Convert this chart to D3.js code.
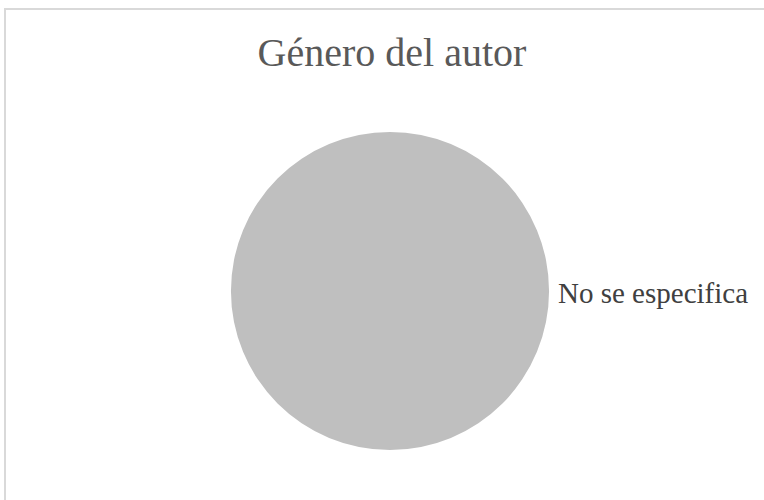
<!DOCTYPE html>
<html>
<head>
<meta charset="utf-8">
<script src="https://cdn.jsdelivr.net/npm/d3@7"></script>
<style>
  body { margin: 0; background: #fff; }
  text { font-family: "Liberation Serif", "Times New Roman", serif; }
</style>
</head>
<body>
<div id="chart"></div>
<script>
let categories = ["No se especifica"];
let values = [1];
let title = "Género del autor";

let w = 764, h = 500;

let svg = d3.select("#chart")
  .append("svg")
  .attr("width", w)
  .attr("height", h);

// chart frame, runs off the right and bottom edges
svg.append("rect")
  .attr("x", 5)
  .attr("y", 9)
  .attr("width", 800)
  .attr("height", 600)
  .attr("fill", "#fff")
  .attr("stroke", "#d9d9d9")
  .attr("stroke-width", 2);

svg.append("text")
  .attr("x", 392)
  .attr("y", 66)
  .attr("text-anchor", "middle")
  .attr("font-size", 40)
  .attr("fill", "#595959")
  .text(title);

let cx = 390, cy = 291, r = 159;

let pie = d3.pie().sort(null);
let arc = d3.arc().innerRadius(0).outerRadius(r);
let color = d3.scaleOrdinal().domain(categories).range(["#bfbfbf"]);

let g = svg.append("g")
  .attr("transform", "translate(" + cx + "," + cy + ")");

let arcs = pie(values);

g.selectAll("path")
  .data(arcs)
  .enter().append("path")
  .attr("d", arc)
  .attr("fill", (d, i) => color(categories[i]));

// label sits outside to the right of the pie
g.selectAll("text.lbl")
  .data(arcs)
  .enter().append("text")
  .attr("class", "lbl")
  .attr("x", r + 9)
  .attr("y", 12)
  .attr("font-size", 29)
  .attr("fill", "#404040")
  .text((d, i) => categories[i]);
</script>
</body>
</html>
